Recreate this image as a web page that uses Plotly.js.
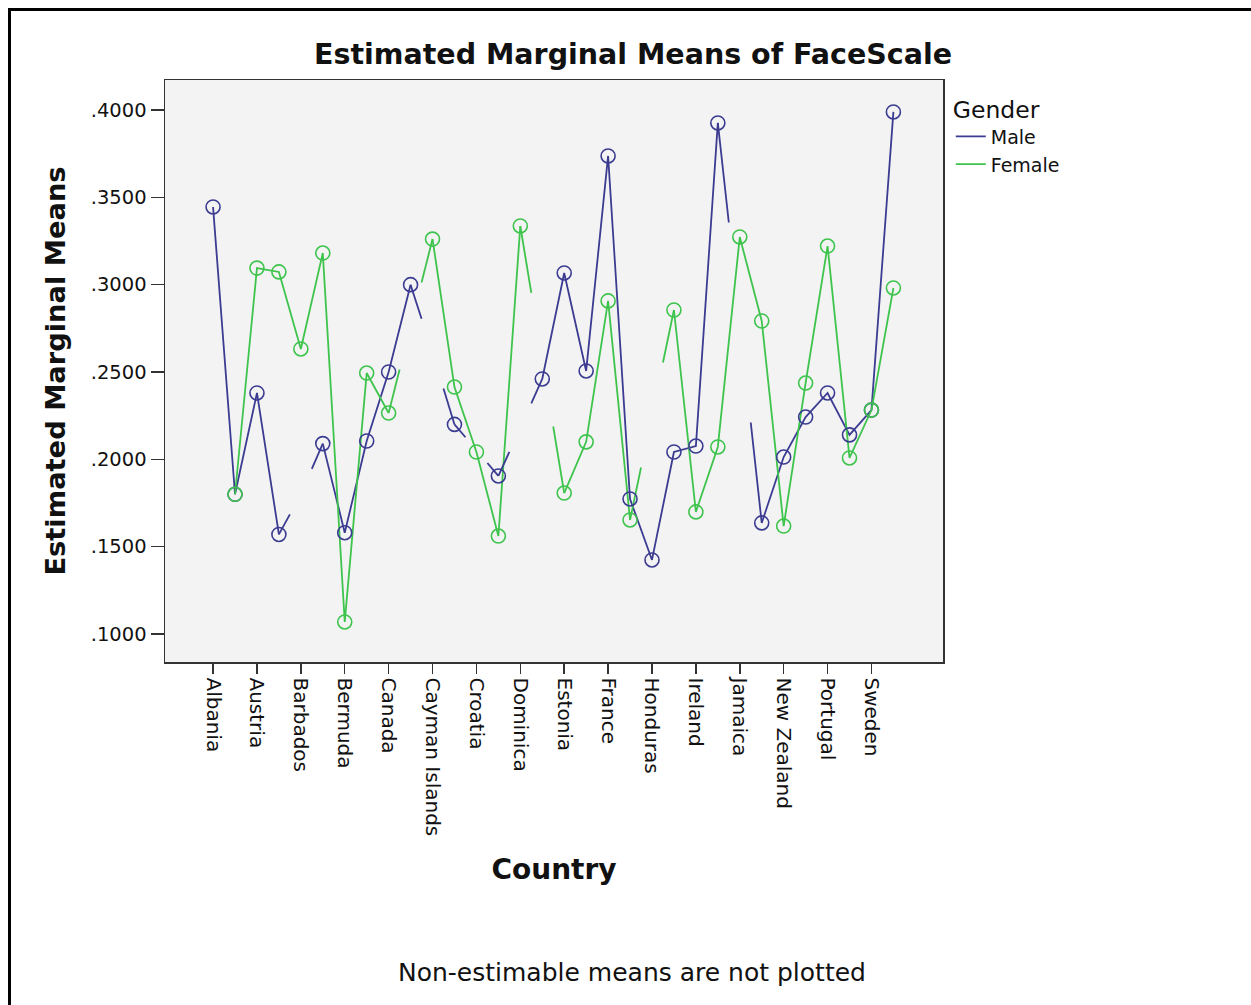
<!DOCTYPE html>
<html>
<head>
<meta charset="utf-8">
<script src="https://cdn.plot.ly/plotly-3.0.1.min.js"></script>
<style>
  html, body { margin: 0; padding: 0; background: #fff; }
  #wrap { position: relative; width: 1251px; height: 1005px; overflow: hidden; }
  #chart { position: absolute; left: 0; top: 0; width: 1251px; height: 1005px; }
  #frame { position: absolute; left: 8px; top: 8px; right: -10px; bottom: -10px;
           border-top: 3px solid #000; border-left: 3px solid #000; pointer-events: none; }
</style>
</head>
<body>
<div id="wrap">
  <div id="chart"></div>
  <div id="frame"></div>
</div>
<script>
// Tick labels shown on the x axis (SPSS labels every other country)
const tickLabels = ['Albania', 'Austria', 'Barbados', 'Bermuda', 'Canada', 'Cayman Islands',
  'Croatia', 'Dominica', 'Estonia', 'France', 'Honduras', 'Ireland', 'Jamaica',
  'New Zealand', 'Portugal', 'Sweden'];

// Estimated marginal means per country position (null = non-estimable)
const maleMeans = [0.3445, 0.180, 0.238, 0.157, null, 0.209, 0.158, 0.2105, 0.250, 0.300,
  null, 0.220, null, 0.1905, null, 0.246, 0.3067, 0.2506, 0.3737, 0.1773,
  0.1424, 0.2042, 0.2076, 0.3926, null, 0.1636, 0.2013, 0.2242, 0.238, 0.214,
  0.2282, 0.3989];
const femaleMeans = [null, 0.180, 0.3095, 0.3073, 0.2632, 0.3181, 0.1069, 0.2494, 0.2265, null,
  0.3261, 0.2414, 0.2042, 0.1561, 0.3336, null, 0.1807, 0.210, 0.2907, 0.1653,
  null, 0.2855, 0.1699, 0.2071, 0.3273, 0.2792, 0.1618, 0.2437, 0.3221, 0.2008,
  0.2282, 0.2981];

// Values implied at non-estimable cells (lines head halfway toward them)
const maleNonEstimable = [null, null, null, null, 0.180, null, null, null, null, null,
  0.261, null, 0.2053, null, 0.218, null, null, null, null, null,
  null, null, null, null, 0.2786, null, null, null, null, null, null, null];
const femaleNonEstimable = [null, null, null, null, null, null, null, null, null, 0.2763,
  null, null, null, null, null, 0.2569, null, null, null, null,
  0.2254, null, null, null, null, null, null, null, null, null, null, null];

const yTickVals = [0.1, 0.15, 0.2, 0.25, 0.3, 0.35, 0.4];
const yTickText = ['.1000', '.1500', '.2000', '.2500', '.3000', '.3500', '.4000'];

const maleColor = '#3b3b92';
const femaleColor = '#3ec44d';

const idx = maleMeans.map((_, i) => i);
const tickVals = tickLabels.map((_, i) => i * 2);

function stubs(means, implied) {
  const xs = [], ys = [];
  implied.forEach((v, m) => {
    if (v === null) return;
    [m - 1, m + 1].forEach(n => {
      if (n < 0 || n >= means.length || means[n] === null) return;
      xs.push(n, (n + m) / 2, null);
      ys.push(means[n], (means[n] + v) / 2, null);
    });
  });
  return { x: xs, y: ys };
}

const ms = stubs(maleMeans, maleNonEstimable);
const fs = stubs(femaleMeans, femaleNonEstimable);

const lineW = 1.8;
const data = [
  { x: idx, y: maleMeans, mode: 'lines', name: 'Male', connectgaps: false,
    line: { color: maleColor, width: lineW }, hoverinfo: 'skip' },
  { x: idx, y: femaleMeans, mode: 'lines', name: 'Female', connectgaps: false,
    line: { color: femaleColor, width: lineW }, hoverinfo: 'skip' },
  { x: ms.x, y: ms.y, mode: 'lines', showlegend: false,
    line: { color: maleColor, width: lineW }, hoverinfo: 'skip' },
  { x: fs.x, y: fs.y, mode: 'lines', showlegend: false,
    line: { color: femaleColor, width: lineW }, hoverinfo: 'skip' },
  { x: idx, y: maleMeans, mode: 'markers', showlegend: false, name: 'Male',
    marker: { symbol: 'circle-open', size: 14, color: maleColor, line: { width: 1.6, color: maleColor } } },
  { x: idx, y: femaleMeans, mode: 'markers', showlegend: false, name: 'Female',
    marker: { symbol: 'circle-open', size: 14, color: femaleColor, line: { width: 1.6, color: femaleColor } } }
];

const axisCol = '#333';
const layout = {
  width: 1251, height: 1005,
  margin: { l: 165, r: 308, t: 80, b: 343, pad: 0 },
  paper_bgcolor: '#ffffff',
  plot_bgcolor: '#f3f3f3',
  font: { family: 'DejaVu Sans, Verdana, sans-serif', color: '#111' },
  title: {
    text: 'Estimated Marginal Means of FaceScale',
    font: { size: 28.5, weight: 'bold', color: '#111', family: 'DejaVu Sans, sans-serif' },
    xref: 'container', yref: 'container', x: 633 / 1251, y: 1 - 54 / 1005,
    xanchor: 'center', yanchor: 'middle'
  },
  xaxis: {
    range: [-2.19, 33.26], tickmode: 'array', tickvals: tickVals, ticktext: tickLabels,
    tickangle: 90, ticks: 'outside', ticklen: 10, tickwidth: 1.5, tickcolor: axisCol,
    showline: true, mirror: true, linecolor: axisCol, linewidth: 1.5,
    showgrid: false, zeroline: false,
    tickfont: { size: 20, color: '#111' },
    title: { text: 'Country', font: { size: 28, weight: 'bold', color: '#111' }, standoff: 24 },
    automargin: false
  },
  yaxis: {
    range: [0.08397, 0.41718], tickmode: 'array', tickvals: yTickVals, ticktext: yTickText,
    ticks: 'outside', ticklen: 13, tickwidth: 1.5, tickcolor: axisCol,
    showline: true, mirror: true, linecolor: axisCol, linewidth: 1.5,
    showgrid: false, zeroline: false,
    tickfont: { size: 19.5, color: '#111' },
    title: { text: 'Estimated Marginal Means', font: { size: 27.3, weight: 'bold', color: '#111' }, standoff: 17 },
    automargin: false
  },
  legend: {
    x: 1.01, y: 0.988, xanchor: 'left', yanchor: 'top',
    bgcolor: 'rgba(0,0,0,0)', font: { size: 19, color: '#111' },
    title: { text: 'Gender', font: { size: 23.5, color: '#111' } },
    itemwidth: 30, tracegroupgap: 0
  },
  annotations: [{
    text: 'Non-estimable means are not plotted', xref: 'paper', yref: 'paper',
    x: (632 - 165) / 778, y: (662 - 973) / 582, xanchor: 'center', yanchor: 'middle',
    showarrow: false, font: { size: 25, color: '#111' }
  }],
  showlegend: true
};

Plotly.newPlot('chart', data, layout, { displayModeBar: false, staticPlot: true });
</script>
</body>
</html>
